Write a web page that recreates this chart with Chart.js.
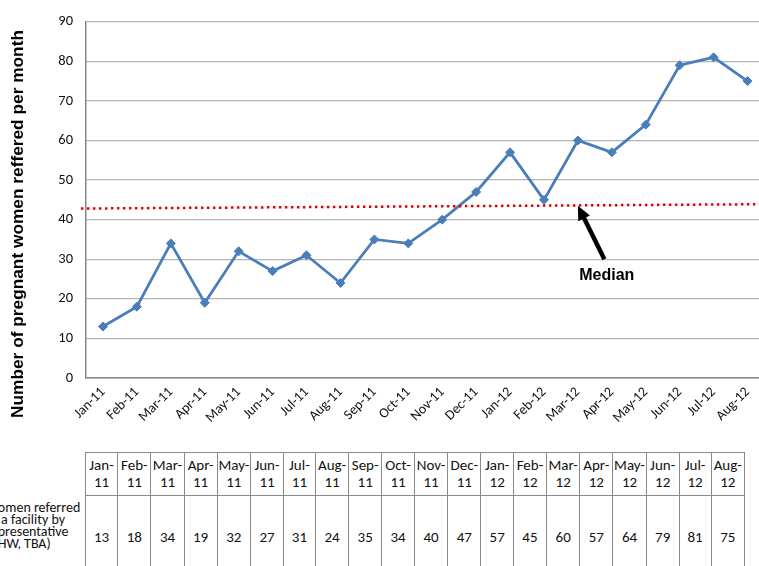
<!DOCTYPE html>
<html>
<head>
<meta charset="utf-8">
<script src="https://cdn.jsdelivr.net/npm/chart.js@4.4.1/dist/chart.umd.min.js"></script>
<style>
  html, body { margin:0; padding:0; background:#fff; width:759px; height:566px; overflow:hidden; position:relative; }
  #wrap { position:absolute; left:0; top:0; width:770px; height:445px; }
  #tbl { position:absolute; left:-14px; top:452px; border-collapse:collapse; table-layout:fixed;
         font-family: Carlito, Lato, "Liberation Sans", sans-serif; color:#111; }
  #tbl td { border:1.5px solid #8a8a8a; text-align:center; padding:0; font-size:15px; }
  #tbl tr.h td { height:42px; line-height:17.5px; }
  #tbl tr.v td { height:76px; }
  #tbl td.lab { border:none; border-right:1.5px solid #8a8a8a; text-align:left; }
  #tbl tr.v td.lab { vertical-align:top; font-size:14px; line-height:12px; padding-top:6px; white-space:nowrap; }
</style>
</head>
<body>
<div id="wrap"><canvas id="c" width="770" height="445"></canvas></div>
<table id="tbl"><colgroup id="cg"></colgroup><tbody><tr class="h" id="rh"></tr><tr class="v" id="rv"></tr></tbody></table>
<script>
const months = ["Jan-11","Feb-11","Mar-11","Apr-11","May-11","Jun-11","Jul-11","Aug-11","Sep-11","Oct-11",
                "Nov-11","Dec-11","Jan-12","Feb-12","Mar-12","Apr-12","May-12","Jun-12","Jul-12","Aug-12"];
const referrals = [13,18,34,19,32,27,31,24,35,34,40,47,57,45,60,57,64,79,81,75];
const yTicks = [0,10,20,30,40,50,60,70,80,90];
const medianLine = [42.8, 43.9];
const rowLabelLines = ["Women referred", "to a facility by", "representative", "(CHW, TBA)"];
const yTitle = 'Number of pregnant women reffered per month';

// annotation placement (category index / value units)
const medianSpan = [-0.65, 19.5];
const arrowTip = {x: 14, y: 43.5};
const arrowTail = {x: 14.78, y: 30.0};
const medianText = {x: 14.85, y: 25.8};

const overlay = {
  id: 'overlay',
  afterDatasetsDraw(chart) {
    const ctx = chart.ctx, xs = chart.scales.x, ys = chart.scales.y;
    ctx.save();
    ctx.strokeStyle = '#e00000';
    ctx.lineWidth = 2.5;
    ctx.setLineDash([2.5, 3.5]);
    ctx.beginPath();
    ctx.moveTo(xs.getPixelForValue(medianSpan[0]), ys.getPixelForValue(medianLine[0]));
    ctx.lineTo(xs.getPixelForValue(medianSpan[1]), ys.getPixelForValue(medianLine[1]));
    ctx.stroke();
    ctx.restore();
    const tx = xs.getPixelForValue(arrowTip.x), ty = ys.getPixelForValue(arrowTip.y);
    const sx = xs.getPixelForValue(arrowTail.x), sy = ys.getPixelForValue(arrowTail.y);
    const ang = Math.atan2(ty - sy, tx - sx);
    const hl = 14, hw = 6.5;
    const bx = tx - Math.cos(ang) * hl, by = ty - Math.sin(ang) * hl;
    ctx.save();
    ctx.strokeStyle = '#000'; ctx.fillStyle = '#000';
    ctx.lineWidth = 4.5;
    ctx.beginPath(); ctx.moveTo(sx, sy); ctx.lineTo(bx + Math.cos(ang)*2, by + Math.sin(ang)*2); ctx.stroke();
    ctx.beginPath();
    ctx.moveTo(tx, ty);
    ctx.lineTo(bx + Math.sin(ang) * hw, by - Math.cos(ang) * hw);
    ctx.lineTo(bx - Math.sin(ang) * hw, by + Math.cos(ang) * hw);
    ctx.closePath(); ctx.fill();
    ctx.font = 'bold 16px "Liberation Sans", Arial, sans-serif';
    ctx.textAlign = 'center'; ctx.textBaseline = 'middle';
    ctx.fillText('Median', xs.getPixelForValue(medianText.x), ys.getPixelForValue(medianText.y));
    ctx.restore();
    ctx.save();
    ctx.translate(18, 224);
    ctx.rotate(-Math.PI / 2);
    ctx.font = 'bold 17.3px "Liberation Sans", Arial, sans-serif';
    ctx.fillStyle = '#000';
    ctx.textAlign = 'center'; ctx.textBaseline = 'middle';
    ctx.fillText(yTitle, 0, 0);
    ctx.restore();
  }
};

new Chart(document.getElementById('c'), {
  type: 'line',
  data: {
    labels: months,
    datasets: [{
      label: yTitle,
      data: referrals,
      borderColor: '#4a7ebb',
      backgroundColor: '#4a7ebb',
      borderWidth: 2.75,
      pointStyle: 'rectRot',
      pointRadius: 4.5,
      pointBorderWidth: 1,
      pointBorderColor: '#4a7ebb',
      tension: 0
    }]
  },
  options: {
    responsive: false,
    devicePixelRatio: 1,
    animation: false,
    layout: { padding: { top: 19, right: 5, left: 0, bottom: 0 } },
    plugins: { legend: { display: false }, tooltip: { enabled: false } },
    scales: {
      x: {
        type: 'category',
        offset: true,
        grid: { display: false, drawTicks: false },
        border: { display: true, color: '#868686', width: 1.5 },
        ticks: {
          autoSkip: false, minRotation: 45, maxRotation: 45, padding: 6,
          color: '#111', font: { family: 'Carlito, Lato, "Liberation Sans", sans-serif', size: 14 }
        },
        afterFit(s) { s.height = 67; }
      },
      y: {
        min: 0, max: 90,
        afterBuildTicks(s) { s.ticks = yTicks.map(v => ({ value: v })); },
        grid: { color: '#b4b4b4', lineWidth: 1.3, drawTicks: false },
        border: { display: true, color: '#868686', width: 1.5 },
        ticks: {
          padding: 13, color: '#111',
          font: { family: 'Carlito, Lato, "Liberation Sans", sans-serif', size: 14.5 }
        },
        title: { display: false },
        afterFit(s) { s.width = 86; }
      }
    }
  },
  plugins: [overlay]
});

const cg = document.getElementById('cg');
const rh = document.getElementById('rh');
const rv = document.getElementById('rv');
let col = document.createElement('col'); col.style.width = '100px'; cg.appendChild(col);
let lh = document.createElement('td'); lh.className = 'lab'; rh.appendChild(lh);
let lv = document.createElement('td'); lv.className = 'lab'; lv.innerHTML = rowLabelLines.join('<br>'); rv.appendChild(lv);
months.forEach((m, i) => {
  const c = document.createElement('col'); c.style.width = '33.95px'; cg.appendChild(c);
  const parts = m.split('-');
  const h = document.createElement('td'); h.innerHTML = parts[0] + '-<br>' + parts[1]; rh.appendChild(h);
  const v = document.createElement('td'); v.textContent = referrals[i]; rv.appendChild(v);
});
</script>
</body>
</html>
